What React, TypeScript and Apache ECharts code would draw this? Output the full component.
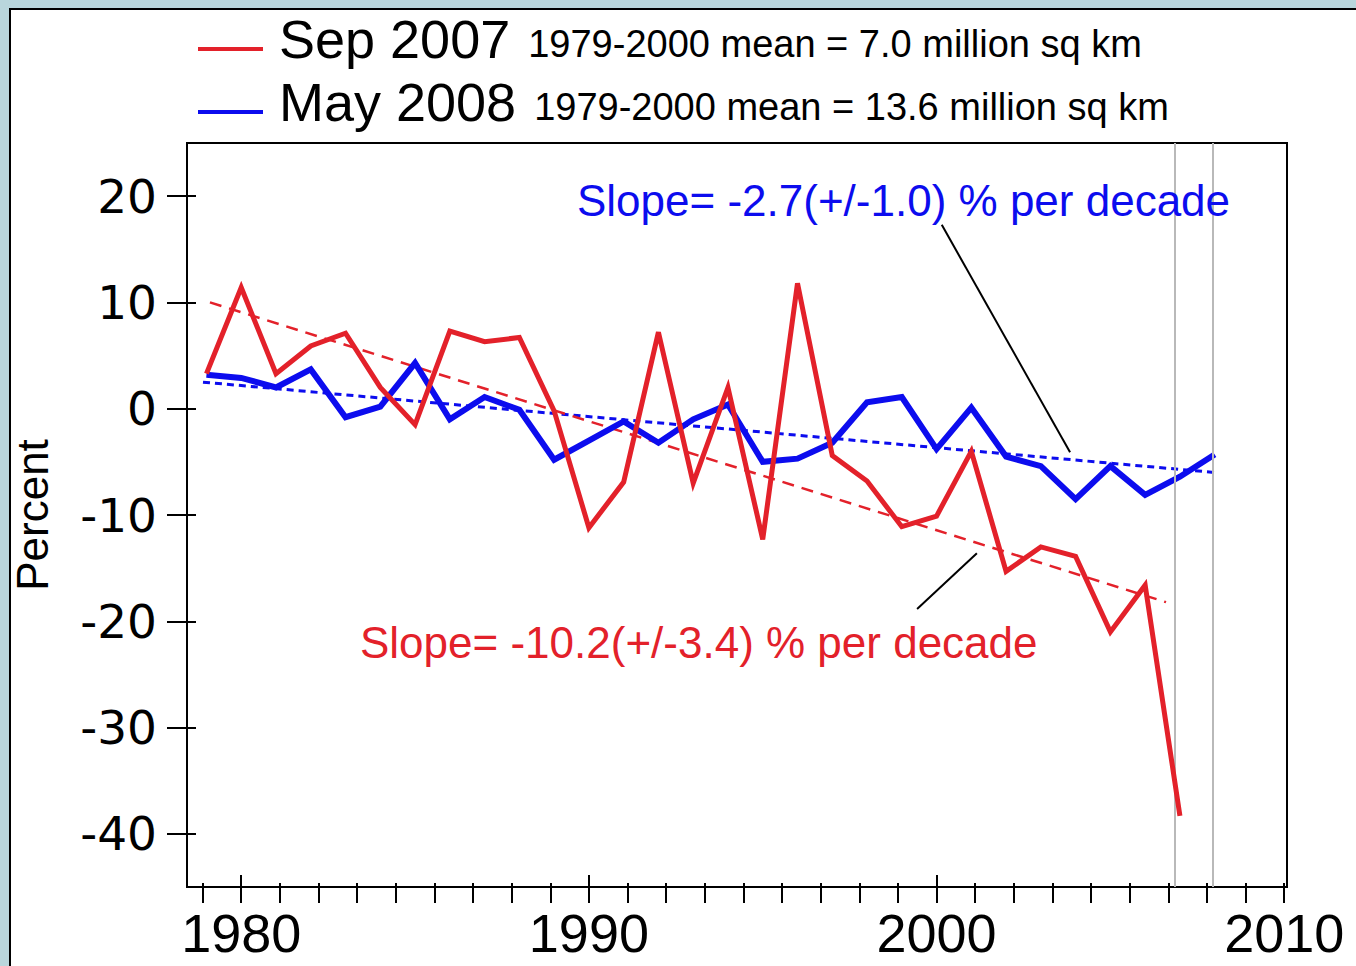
import React, { useEffect, useRef } from "react";
import * as echarts from "echarts";

// ---- data ----
const sepYears = [1979,1980,1981,1982,1983,1984,1985,1986,1987,1988,1989,1990,1991,1992,1993,1994,1995,1996,1997,1998,1999,2000,2001,2002,2003,2004,2005,2006,2007];
const sepValues = [3.3,11.4,3.3,5.9,7.1,2.0,-1.5,7.3,6.3,6.7,-0.2,-11.2,-6.9,7.2,-7.0,2.0,-12.3,11.8,-4.4,-6.8,-11.1,-10.1,-4.0,-15.3,-13.0,-13.9,-21.0,-16.6,-38.3];

const mayYears = [1979,1980,1981,1982,1983,1984,1985,1986,1987,1988,1989,1990,1991,1992,1993,1994,1995,1996,1997,1998,1999,2000,2001,2002,2003,2004,2005,2006,2007,2008];
const mayValues = [3.2,2.9,2.0,3.7,-0.8,0.2,4.3,-1.0,1.1,-0.1,-4.8,-3.0,-1.2,-3.2,-1.0,0.4,-5.0,-4.7,-3.2,0.6,1.1,-3.8,0.1,-4.5,-5.4,-8.5,-5.4,-8.1,-6.4,-4.3];

// trend lines (start / end)
const sepTrendYears = [1979.1, 2006.6];
const sepTrendValues = [10.0, -18.2];
const mayTrendYears = [1978.9, 2008.0];
const mayTrendValues = [2.5, -6.0];

// reference months (grey verticals)
const markerYears = [2006.85, 2007.95];

// annotation leader lines [x1, y1, x2, y2] in data units
const mayLeader = [2000.15, 17.3, 2003.84, -4.1];
const sepLeader = [1999.44, -18.85, 2001.16, -13.6];

const maySlopeText = "Slope= -2.7(+/-1.0) % per decade";
const sepSlopeText = "Slope= -10.2(+/-3.4) % per decade";

const legendNames = ["Sep 2007", "May 2008"];
const legendNotes = ["1979-2000 mean = 7.0 million sq km", "1979-2000 mean = 13.6 million sq km"];

const xLabelValues = [1980, 1990, 2000, 2010];
const xMajorTickValues = [1980, 1990, 2000];
const xTickValues = [1978.889,1980,1981.111,1982.222,1983.333,1984.444,1985.556,1986.667,1987.778,1988.889,1990,1991.111,1992.222,1993.333,1994.444,1995.556,1996.667,1997.778,1998.889,2000,2001.111,2002.222,2003.333,2004.444,2005.556,2006.667,2007.778,2008.889,2010];
const yTickValues = [-40, -30, -20, -10, 0, 10, 20];

const RED = "#e3212a";
const BLUE = "#0c0cee";
const FONT = "'Liberation Sans', Arial, sans-serif";

const X_MIN = 1978.44;
const X_MAX = 2010.08;

export default function App() {
  const ref = useRef<HTMLDivElement>(null);
  useEffect(() => {
    if (!ref.current) return;
    const chart = echarts.init(ref.current, undefined, { renderer: "svg" });
    const zip = (a: number[], b: number[]) => a.map((v, i) => [v, b[i]]);
    const baseX = { type: "value", min: X_MIN, max: X_MAX, position: "bottom", splitLine: { show: false } };
    const baseY = { type: "value", min: -45, max: 25, position: "left", splitLine: { show: false } };
    const option: any = {
      animation: false,
      backgroundColor: "#b9d6dc",
      textStyle: { fontFamily: FONT },
      graphic: [
        {
          type: "rect", z: -100, silent: true,
          shape: { x: 10, y: 9, width: 1400, height: 1000 },
          style: { fill: "#ffffff", stroke: "#000000", lineWidth: 2 },
        },
        {
          type: "text", x: 577, y: 200, z: 50, silent: true,
          style: { text: maySlopeText, fill: BLUE, font: `44px ${FONT}`, textVerticalAlign: "middle", verticalAlign: "middle" },
        },
        {
          type: "text", x: 360, y: 642, z: 50, silent: true,
          style: { text: sepSlopeText, fill: RED, font: `44px ${FONT}`, textVerticalAlign: "middle", verticalAlign: "middle" },
        },
      ],
      legend: {
        data: legendNames,
        orient: "vertical",
        left: 198,
        top: 12,
        padding: 0,
        itemGap: -1,
        itemWidth: 65,
        itemHeight: 4,
        icon: "rect",
        selectedMode: false,
        formatter: (name: string) => {
          const i = legendNames.indexOf(name);
          return `{big|${name}}{small|${legendNotes[i]}}`;
        },
        textStyle: {
          rich: {
            big: { fontSize: 54, lineHeight: 54, fontFamily: FONT, color: "#000", verticalAlign: "bottom", padding: [0, 18, 10, 11] },
            small: { fontSize: 38, lineHeight: 43, fontFamily: FONT, color: "#000", verticalAlign: "bottom", padding: [0, 0, 13, 0] },
          },
        },
      },
      grid: {
        left: 187, right: 69, top: 143, bottom: 79,
        show: true, borderColor: "#000", borderWidth: 2, backgroundColor: "rgba(0,0,0,0)",
      },
      xAxis: [
        {
          ...baseX,
          axisLine: { show: true, onZero: false, lineStyle: { color: "#000", width: 2 } },
          axisTick: { show: true, customValues: xTickValues, length: 16, lineStyle: { color: "#000", width: 2 } },
          axisLabel: {
            show: true, customValues: xLabelValues, formatter: (v: number) => String(Math.round(v)),
            fontSize: 54, fontFamily: FONT, color: "#000", margin: 19,
          },
        },
        {
          ...baseX,
          axisLine: { show: false, onZero: false },
          axisTick: { show: true, inside: true, customValues: xMajorTickValues, length: 12, lineStyle: { color: "#000", width: 2 } },
          axisLabel: { show: false },
        },
        {
          ...baseX,
          axisLine: { show: false, onZero: false },
          axisTick: { show: true, inside: true, customValues: xTickValues, length: 4, lineStyle: { color: "#000", width: 2 } },
          axisLabel: { show: false },
        },
      ],
      yAxis: [
        {
          ...baseY,
          axisLine: { show: true, onZero: false, lineStyle: { color: "#000", width: 2 } },
          axisTick: { show: true, customValues: yTickValues, length: 20, lineStyle: { color: "#000", width: 2 } },
          axisLabel: {
            show: true, customValues: yTickValues, fontSize: 47, fontFamily: "'DejaVu Sans', sans-serif",
            color: "#000", margin: 30,
          },
          name: "Percent",
          nameLocation: "middle",
          nameRotate: 90,
          nameGap: 133,
          nameTextStyle: { fontSize: 44, fontFamily: FONT, color: "#000" },
        },
        {
          ...baseY,
          axisLine: { show: false, onZero: false },
          axisTick: { show: true, inside: true, customValues: yTickValues, length: 9, lineStyle: { color: "#000", width: 2 } },
          axisLabel: { show: false },
        },
      ],
      series: [
        {
          name: "May 2008 trend",
          type: "line",
          data: zip(mayTrendYears, mayTrendValues),
          symbol: "none",
          silent: true,
          z: 3,
          lineStyle: { color: BLUE, width: 3, type: [7, 5] },
          markLine: {
            silent: true,
            symbol: ["none", "none"],
            label: { show: false },
            data: [
              ...markerYears.map((y) => ({ xAxis: y, lineStyle: { color: "#b9b9b9", width: 2, type: "solid" } })),
              [
                { coord: [mayLeader[0], mayLeader[1]], lineStyle: { color: "#000", width: 2, type: "solid" } },
                { coord: [mayLeader[2], mayLeader[3]] },
              ],
            ],
          },
        },
        {
          name: "Sep 2007 trend",
          type: "line",
          data: zip(sepTrendYears, sepTrendValues),
          symbol: "none",
          silent: true,
          z: 3,
          lineStyle: { color: RED, width: 2.5, type: [12, 8] },
          markLine: {
            silent: true,
            symbol: ["none", "none"],
            label: { show: false },
            data: [
              [
                { coord: [sepLeader[0], sepLeader[1]], lineStyle: { color: "#000", width: 2, type: "solid" } },
                { coord: [sepLeader[2], sepLeader[3]] },
              ],
            ],
          },
        },
        {
          name: "May 2008",
          type: "line",
          data: zip(mayYears, mayValues),
          symbol: "none",
          z: 4,
          itemStyle: { color: BLUE },
          lineStyle: { color: BLUE, width: 6, join: "miter", miterLimit: 4 },
        },
        {
          name: "Sep 2007",
          type: "line",
          data: zip(sepYears, sepValues),
          symbol: "none",
          z: 5,
          itemStyle: { color: RED },
          lineStyle: { color: RED, width: 5, join: "miter", miterLimit: 4 },
        },
      ],
    };
    chart.setOption(option);
    return () => chart.dispose();
  }, []);
  return <div ref={ref} style={{ position: "absolute", left: 0, top: 0, width: 1356, height: 966 }} />;
}
